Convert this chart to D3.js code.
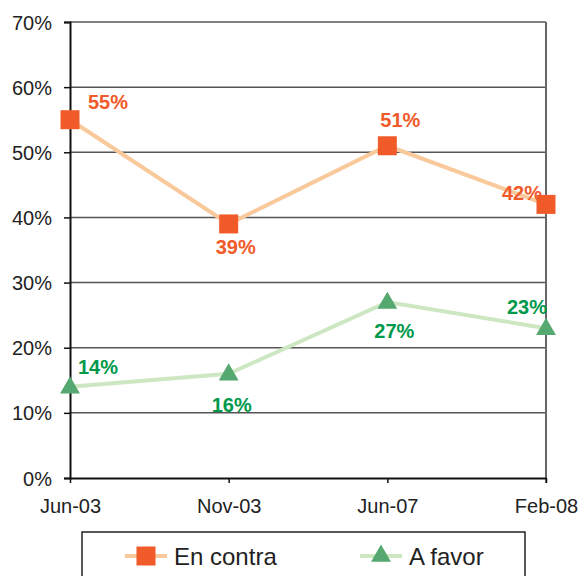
<!DOCTYPE html>
<html>
<head>
<meta charset="utf-8">
<script src="https://cdn.jsdelivr.net/npm/d3@7"></script>
<style>
  body { margin: 0; background: #fff; }
  text { font-family: "Liberation Sans", Arial, sans-serif; }
</style>
</head>
<body>
<svg width="581" height="576"></svg>
<script>
// data
var categories = ["Jun-03", "Nov-03", "Jun-07", "Feb-08"];
var enContra = [0.55, 0.39, 0.51, 0.42];
var aFavor = [0.14, 0.16, 0.27, 0.23];
var yTicks = [0, 0.1, 0.2, 0.3, 0.4, 0.5, 0.6, 0.7];
var seriesNames = ["En contra", "A favor"];

// label placement: [dx, dy, anchor]
var contraLabelPos = [[18, -11, "start"], [7, 30, "middle"], [13, -19, "middle"], [-4, -4, "end"]];
var favorLabelPos = [[8, -13, "start"], [3, 38, "middle"], [7, 36, "middle"], [1, -14, "end"]];

var svg = d3.select("svg");
var margin = {left: 70, top: 22, right: 35, bottom: 98};
var width = 581 - margin.left - margin.right;
var height = 576 - margin.top - margin.bottom;

var x = d3.scalePoint().domain(categories).range([0, width]).padding(0);
var y = d3.scaleLinear().domain([0, 0.7]).range([height, 0]);

var g = svg.append("g").attr("transform", "translate(" + margin.left + "," + margin.top + ")");

// gridlines
g.selectAll(".grid")
  .data(yTicks.filter(function(d){ return d > 0; }))
  .enter().append("line")
  .attr("x1", 0).attr("x2", width)
  .attr("y1", function(d){ return y(d); })
  .attr("y2", function(d){ return y(d); })
  .style("stroke", "#555").style("stroke-width", 1.5);

// right border
g.append("line")
  .attr("x1", width).attr("x2", width)
  .attr("y1", 0).attr("y2", height + 5)
  .style("stroke", "#666").style("stroke-width", 2);

// y axis
var yAxis = g.append("g")
  .call(d3.axisLeft(y).tickValues(yTicks).tickFormat(d3.format(".0%")).tickSize(6).tickPadding(12));
yAxis.select(".domain").style("stroke", "#111").style("stroke-width", 2);
yAxis.selectAll(".tick line").style("stroke", "#111").style("stroke-width", 1.5);
yAxis.selectAll("text").style("font-size", "20px").style("fill", "#222")
  .attr("dy", "0.35em");

// x axis
var xAxis = g.append("g").attr("transform", "translate(0," + height + ")")
  .call(d3.axisBottom(x).tickSize(5).tickSizeOuter(0).tickPadding(16));
xAxis.select(".domain").style("stroke", "#111").style("stroke-width", 2);
xAxis.selectAll(".tick line").style("stroke", "#111").style("stroke-width", 1.5);
xAxis.selectAll("text").style("font-size", "20px").style("fill", "#222");

var line = d3.line()
  .x(function(d, i){ return x(categories[i]); })
  .y(function(d){ return y(d); });

var orange = "#F15A29", orangeLine = "#F9C99B";
var green = "#55A870", greenLine = "#CDE7C2", greenText = "#00994C";

// en contra
g.append("path").datum(enContra).attr("d", line)
  .style("fill", "none").style("stroke", orangeLine).style("stroke-width", 4);
g.selectAll(".sq").data(enContra).enter().append("rect")
  .attr("x", function(d, i){ return x(categories[i]) - 9.5; })
  .attr("y", function(d){ return y(d) - 9.5; })
  .attr("width", 19).attr("height", 19)
  .style("fill", orange);

// a favor
g.append("path").datum(aFavor).attr("d", line)
  .style("fill", "none").style("stroke", greenLine).style("stroke-width", 4);
var tri = d3.symbol().type(d3.symbolTriangle).size(170);
g.selectAll(".tri").data(aFavor).enter().append("path")
  .attr("d", tri)
  .attr("transform", function(d, i){ return "translate(" + x(categories[i]) + "," + (y(d) + 1) + ")"; })
  .style("fill", green);

// labels
function labels(data, pos, color) {
  g.selectAll(null).data(data).enter().append("text")
    .attr("x", function(d, i){ return x(categories[i]) + pos[i][0]; })
    .attr("y", function(d){ return y(d); })
    .attr("dy", function(d, i){ return pos[i][1]; })
    .attr("text-anchor", function(d, i){ return pos[i][2]; })
    .style("font-size", "20px").style("font-weight", "bold").style("fill", color)
    .text(function(d){ return Math.round(d * 100) + "%"; });
}
labels(enContra, contraLabelPos, orange);
labels(aFavor, favorLabelPos, greenText);

// legend
var lg = svg.append("g");
lg.append("rect").attr("x", 82).attr("y", 532).attr("width", 443).attr("height", 60)
  .style("fill", "#fff").style("stroke", "#222").style("stroke-width", 1.5);

var items = lg.selectAll(".item").data(seriesNames).enter().append("g")
  .attr("transform", function(d, i){ return "translate(" + (i === 0 ? 125 : 360) + ",556)"; });
items.append("line").attr("x1", 0).attr("x2", 42)
  .style("stroke", function(d, i){ return i === 0 ? orangeLine : greenLine; })
  .style("stroke-width", 4);
items.each(function(d, i) {
  var s = d3.select(this);
  if (i === 0) {
    s.append("rect").attr("x", 11.5).attr("y", -9.5).attr("width", 19).attr("height", 19).style("fill", orange);
  } else {
    s.append("path").attr("d", tri).attr("transform", "translate(21,0)").style("fill", green);
  }
});
items.append("text").attr("x", 49).attr("y", 8.5)
  .style("font-size", "24px").style("fill", "#222")
  .text(function(d){ return d; });
</script>
</body>
</html>
